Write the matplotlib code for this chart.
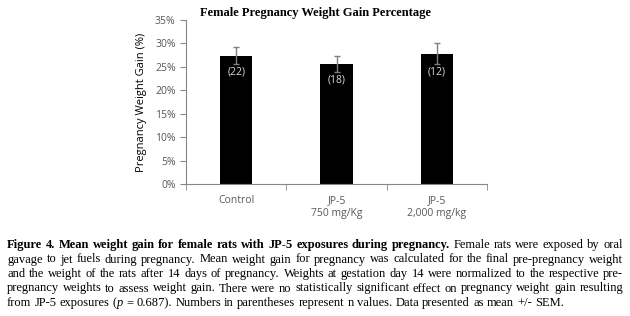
import numpy as np
import matplotlib.pyplot as plt

groups = ['Control', 'JP-5\n750 mg/Kg', 'JP-5\n2,000 mg/kg']
gain = [27.4, 25.6, 27.8]
sem = [1.8, 1.7, 2.2]
n_vals = ['(22)', '(18)', '(12)']

# caption pieces: (text, weight, style)
caption = [
    [("Figure 4. Mean weight gain for female rats with JP-5 exposures during pregnancy.", 'bold', 'normal'),
     (" Female rats were exposed by oral", 'normal', 'normal')],
    [("gavage to jet fuels during pregnancy. Mean weight gain for pregnancy was calculated for the final pre-pregnancy weight", 'normal', 'normal')],
    [("and the weight of the rats after 14 days of pregnancy. Weights at gestation day 14 were normalized to the respective pre-", 'normal', 'normal')],
    [("pregnancy weights to assess weight gain. There were no statistically significant effect on pregnancy weight gain resulting", 'normal', 'normal')],
    [("from JP-5 exposures (", 'normal', 'normal'), ("p", 'normal', 'italic'),
     (" = 0.687). Numbers in parentheses represent n values. Data presented as mean +/- SEM.", 'normal', 'normal')],
]

grey = '#595959'
fig = plt.figure(figsize=(6.3, 3.16), dpi=100)
ax = fig.add_axes([186/630, 1 - 184/316, 301/630, 164/316])

x = np.arange(len(groups))
ax.bar(x, gain, width=0.32, color='black', zorder=2)
ax.errorbar(x, gain, yerr=sem, fmt='none', ecolor='#7f7f7f', elinewidth=1, capsize=2.5, capthick=1, zorder=3)
for xi, g, s, t in zip(x, gain, sem, n_vals):
    ax.text(xi, g - s - 1.8, t, ha='center', va='center', color='#d9d9d9', fontsize=7.5, family='Open Sans')

ax.set_xlim(-0.5, 2.5)
ax.set_ylim(0, 35)
ax.set_yticks(np.arange(0, 36, 5))
ax.set_yticklabels([f'{v}%' for v in range(0, 36, 5)])
ax.set_xticks(x)
ax.set_xticklabels(groups)
ax.set_xticks([-0.5, 0.5, 1.5, 2.5], minor=True)
ax.tick_params(axis='x', which='major', length=0, pad=8)
ax.tick_params(axis='x', which='minor', length=4, direction='out', color='#868686')
ax.tick_params(axis='y', length=4, direction='out', color='#868686')
for lab in ax.get_xticklabels() + ax.get_yticklabels():
    lab.set_fontsize(7.5)
    lab.set_color(grey)
    lab.set_family('Open Sans')
for s in ['top', 'right']:
    ax.spines[s].set_visible(False)
for s in ['left', 'bottom']:
    ax.spines[s].set_color('#868686')
ax.set_ylabel('Pregnancy Weight Gain (%)', fontsize=8, color='black', family='Open Sans', labelpad=6)

fig.text(315/630, 1 - 13/316, 'Female Pregnancy Weight Gain Percentage', ha='center', va='center',
         fontsize=9, fontweight='bold', family='Liberation Serif')

# justified caption, word by word
fig.canvas.draw()
r = fig.canvas.get_renderer()
fs = 9.0
left, right = 7, 623
for i, pieces in enumerate(caption):
    yy = 1 - (245 + i * 14.5) / 316
    words = []  # (text, weight, style, space_before)
    for txt, w, st in pieces:
        parts = txt.split(' ')
        for k, p in enumerate(parts):
            if p == '':
                continue
            sp = k > 0 or txt.startswith(' ') or not words
            if k == 0 and not txt.startswith(' ') and words:
                sp = False
            words.append([p, w, st, sp])
    arts = []
    for p, w, st, sp in words:
        t = fig.text(0, yy, p, ha='left', va='center', fontsize=fs, fontweight=w,
                     fontstyle=st, family='Liberation Serif')
        arts.append((t, t.get_window_extent(r).width, sp))
    n_gaps = sum(1 for a in arts[1:] if a[2])
    total = sum(a[1] for a in arts)
    if i < len(caption) - 1 and n_gaps:
        gap = (right - left - total) / n_gaps
    else:
        gap = 3.2
    xx = left
    for j, (t, wdt, sp) in enumerate(arts):
        if j > 0 and sp:
            xx += gap
        t.set_x(xx / 630)
        xx += wdt

fig.savefig('out.png', dpi=100)
